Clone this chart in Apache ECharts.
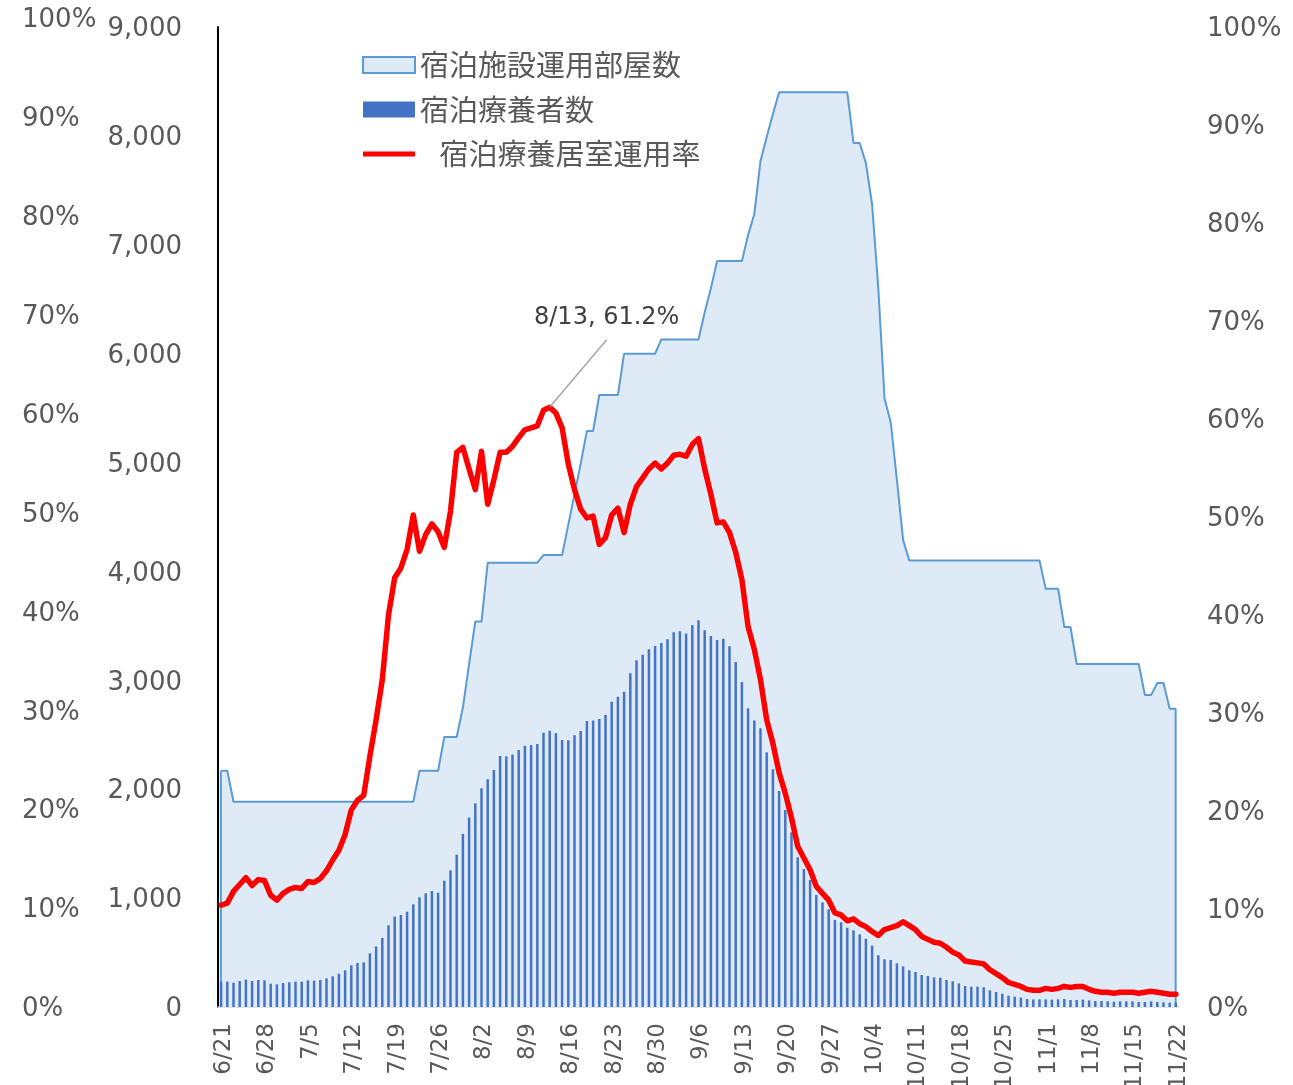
<!DOCTYPE html>
<html>
<head>
<meta charset="utf-8">
<script src="https://cdn.jsdelivr.net/npm/echarts@6.0.0/dist/echarts.min.js"></script>
<style>
html, body { margin: 0; padding: 0; background: #fff; }
#main { width: 1293px; height: 1085px; }
</style>
</head>
<body>
<div id="main"></div>
<script>
// series names
var nameRooms = '宿泊施設運用部屋数';
var namePatients = '宿泊療養者数';
var nameRate = '宿泊療養居室運用率';

// date categories 6/21 - 11/22 (daily)
var monthSpans = [[6, 21, 30], [7, 1, 31], [8, 1, 31], [9, 1, 30], [10, 1, 31], [11, 1, 22]];
var dates = [];
monthSpans.forEach(function (s) {
	for (var d = s[1]; d <= s[2]; d++) dates.push(s[0] + '/' + d);
});

// 宿泊施設運用部屋数
var rooms = [
	2170, 2170,
	1885, 1885, 1885, 1885, 1885, 1885, 1885, 1885, 1885, 1885,
	1885, 1885, 1885, 1885, 1885, 1885, 1885, 1885, 1885, 1885,
	1885, 1885, 1885, 1885, 1885, 1885, 1885, 1885, 1885, 1885,
	2170, 2170, 2170, 2170,
	2480, 2480, 2480,
	2750, 3150, 3540, 3540,
	4080, 4080, 4080, 4080, 4080, 4080, 4080, 4080, 4080,
	4150, 4150, 4150, 4150,
	4430, 4710, 4990,
	5290, 5290,
	5620, 5620, 5620, 5620,
	6000, 6000, 6000, 6000, 6000, 6000,
	6130, 6130, 6130, 6130, 6130, 6130, 6130,
	6380, 6600,
	6850, 6850, 6850, 6850, 6850,
	7090, 7280, 7770, 7990, 8200,
	8400, 8400, 8400, 8400, 8400, 8400, 8400, 8400, 8400, 8400, 8400, 8400,
	7935, 7935,
	7750, 7370, 6600, 5590, 5370, 4840, 4290,
	4100, 4100, 4100, 4100, 4100, 4100, 4100, 4100, 4100, 4100, 4100,
	4100, 4100, 4100, 4100, 4100, 4100, 4100, 4100, 4100, 4100, 4100,
	3840, 3840, 3840,
	3490, 3490,
	3150, 3150, 3150, 3150, 3150, 3150, 3150, 3150, 3150, 3150, 3150,
	2865, 2865, 2975, 2975, 2740, 2740
];

// 宿泊療養者数
var patients = [
	233, 233, 223, 239, 251, 239, 248, 245, 214, 208,
	220, 227, 233, 233, 245, 242, 248, 263, 282, 306,
	337, 383, 404, 410, 493, 557, 634, 750, 830, 845,
	875, 943, 1007, 1044, 1065, 1050, 1160, 1255, 1399,
	1590, 1740, 1870,
	2008, 2091, 2177, 2305, 2302, 2318, 2360, 2400, 2406, 2415,
	2519, 2538, 2513, 2452, 2449, 2495, 2535, 2627, 2630, 2645,
	2682, 2804, 2850, 2896, 3064, 3184, 3236, 3285, 3315, 3343,
	3377, 3441, 3450, 3429, 3508, 3551, 3459, 3407, 3371, 3383,
	3312, 3168,
	2985, 2743, 2630, 2559, 2339, 2183, 1984, 1809, 1604, 1375,
	1267, 1166, 1029, 961, 897, 799, 778, 728, 704, 667,
	627, 563, 475,
	438, 432, 401, 373, 337, 321, 294, 285, 272, 269,
	248, 236, 217, 193, 187, 187, 181, 153, 138, 122,
	104, 95, 86, 73, 70, 70, 70, 67, 70, 73,
	64, 64, 67, 61, 55, 55, 52, 49, 52, 52,
	52, 46, 46, 52, 46, 43, 40, 40
];

// 宿泊療養居室運用率 (%)
var rate = [
	10.4, 10.6, 11.8, 12.5, 13.2, 12.4, 13.0, 12.9, 11.4, 10.9,
	11.6, 12.0, 12.2, 12.1, 12.8, 12.7, 13.1, 13.9, 15.0, 16.0,
	17.6, 20.1, 21.1, 21.6, 25.6,
	29.3, 33.4, 40.0, 43.8, 44.8, 46.7, 50.2, 46.5, 48.2, 49.3,
	48.5, 46.9, 50.6, 56.6, 57.1, 54.9, 52.8, 56.7, 51.3, 53.8,
	56.6, 56.6, 57.2, 58.1, 58.9, 59.1, 59.3, 60.9, 61.2, 60.6,
	59.1, 55.4, 52.8, 50.8, 49.9, 50.1, 47.2, 47.9, 50.2, 50.9,
	48.4, 51.3, 53.1, 54.0, 54.9, 55.5, 54.9, 55.5, 56.3, 56.4,
	56.2, 57.4, 58.0, 54.9, 52.3, 49.4, 49.5, 48.4, 46.4, 43.6,
	38.8, 36.5, 33.4, 29.3, 26.9, 23.9, 21.8, 19.3, 16.4, 15.2,
	14.0, 12.3, 11.6, 10.9, 9.6, 9.4, 8.8, 9.0, 8.5, 8.2,
	7.7, 7.3, 7.9, 8.1, 8.3,
	8.7, 8.3, 7.9, 7.2, 6.9, 6.6, 6.5, 6.1, 5.6, 5.3,
	4.7, 4.6, 4.5, 4.4, 3.8, 3.4, 3.0, 2.5, 2.3, 2.1,
	1.8, 1.7, 1.7, 1.9, 1.8, 1.9, 2.1, 2.0, 2.1, 2.1,
	1.8, 1.6, 1.5, 1.5, 1.4, 1.5, 1.5, 1.5, 1.4, 1.5,
	1.6, 1.5, 1.4, 1.3, 1.3
];

var countTicks = { min: 0, max: 9000, interval: 1000 };
var pctTicks = { min: 0, max: 100, interval: 10 };

var labelColor = '#595959';
var latinFont = 'DejaVu Sans';

// the area outline is closed at both ends (first and last day)
var roomsEdge = rooms.map(function (v, i) {
	return (i === 0 || i === rooms.length - 1) ? v : '-';
});

// peak point gets the callout label
var peakIdx = 0;
for (var i = 1; i < rate.length; i++) {
	if (rate[i] > rate[peakIdx]) peakIdx = i;
}
var rateData = rate.map(function (v, i) {
	if (i !== peakIdx) return v;
	return {
		value: v,
		symbol: 'circle',
		symbolSize: 1,
		label: {
			show: true,
			position: 'top',
			formatter: dates[i] + ', ' + v.toFixed(1) + '%',
			fontSize: 24,
			color: '#404040',
			fontFamily: latinFont,
			// transparent padded box so the guide line meets the bottom middle
			backgroundColor: 'rgba(255,255,255,0)',
			padding: [0, 60, 10, 60]
		},
		labelLine: { show: true, lineStyle: { color: '#A6A6A6', width: 1.5 } }
	};
});

var yLabel = {
	fontSize: 26,
	color: labelColor,
	fontFamily: latinFont,
	verticalAlign: 'top',
	lineHeight: 5
};

var myChart = echarts.init(document.getElementById('main'));

var option = {
	animation: false,
	backgroundColor: '#fff',
	grid: [
		{ left: 218, right: 114, top: 27, bottom: 78, outerBoundsMode: 'none' },
		{ left: 218, right: 114, top: 18, bottom: 78, outerBoundsMode: 'none' }
	],
	legend: {
		orient: 'vertical',
		left: 357,
		top: 45,
		itemWidth: 52,
		itemHeight: 16,
		itemGap: 14.5,
		textStyle: { fontSize: 29, color: labelColor, fontFamily: 'Noto Sans CJK JP', lineHeight: 30 },
		formatter: function (name) {
			return name === nameRate ? '   ' + name : name;
		},
		data: [
			{ name: nameRooms, icon: 'rect', itemStyle: { color: '#DEEBF7', borderColor: '#5B9BD5', borderWidth: 2 } },
			{ name: namePatients, icon: 'rect' },
			{ name: nameRate, icon: 'path://M0,0H104V10H0Z' }
		]
	},
	xAxis: [
		{
			type: 'category',
			gridIndex: 0,
			data: dates,
			boundaryGap: true,
			axisLine: { lineStyle: { color: '#D9D9D9', width: 1.5 } },
			axisTick: { show: false },
			axisLabel: {
				interval: 6,
				rotate: 90,
				margin: 16,
				fontSize: 23,
				color: labelColor,
				fontFamily: latinFont,
				verticalAlign: 'top',
				lineHeight: 6
			}
		},
		{
			type: 'category',
			gridIndex: 1,
			data: dates,
			show: false
		}
	],
	yAxis: [
		{
			type: 'value',
			gridIndex: 0,
			position: 'left',
			min: countTicks.min,
			max: countTicks.max,
			interval: countTicks.interval,
			axisLine: { show: true, lineStyle: { color: '#000', width: 2 } },
			axisTick: { show: false },
			splitLine: { show: false },
			axisLabel: Object.assign({
				margin: 36,
				formatter: function (v) { return echarts.format.addCommas(v); }
			}, yLabel)
		},
		{
			type: 'value',
			gridIndex: 0,
			position: 'right',
			min: pctTicks.min,
			max: pctTicks.max,
			interval: pctTicks.interval,
			axisLine: { show: false },
			axisTick: { show: false },
			splitLine: { show: false },
			axisLabel: Object.assign({ margin: 28, formatter: '{value}%' }, yLabel)
		},
		{
			type: 'value',
			gridIndex: 1,
			position: 'left',
			offset: 150,
			min: pctTicks.min,
			max: pctTicks.max,
			interval: pctTicks.interval,
			axisLine: { show: false },
			axisTick: { show: false },
			splitLine: { show: false },
			axisLabel: Object.assign({ margin: 46, align: 'left', formatter: '{value}%' }, yLabel)
		}
	],
	series: [
		{
			name: nameRooms,
			type: 'line',
			xAxisIndex: 0,
			yAxisIndex: 0,
			data: rooms,
			symbol: 'none',
			itemStyle: { color: '#5B9BD5' },
			lineStyle: { color: '#5B9BD5', width: 2 },
			areaStyle: { color: '#DEEBF7', opacity: 1 },
			z: 1
		},
		{
			name: 'areaEdge',
			type: 'bar',
			xAxisIndex: 0,
			yAxisIndex: 0,
			data: roomsEdge,
			barWidth: 2,
			itemStyle: { color: '#5B9BD5' },
			z: 1
		},
		{
			name: namePatients,
			type: 'bar',
			xAxisIndex: 0,
			yAxisIndex: 0,
			data: patients,
			barWidth: '40%',
			barGap: '-100%',
			itemStyle: { color: '#4472C4' },
			z: 2
		},
		{
			name: nameRate,
			type: 'line',
			xAxisIndex: 0,
			yAxisIndex: 1,
			data: rateData,
			symbol: 'none',
			showAllSymbol: true,
			itemStyle: { color: '#FF0000' },
			lineStyle: { color: '#FF0000', width: 5.5, join: 'round', cap: 'round' },
			labelLayout: { dx: 57, dy: -62 },
			z: 3
		}
	],
	graphic: [
		{
			// clipped date label at the far left edge
			type: 'text',
			x: -10,
			y: 1050,
			rotation: Math.PI / 2,
			style: {
				text: '11/22',
				fontSize: 23,
				fontFamily: latinFont,
				fill: labelColor,
				align: 'center',
				verticalAlign: 'middle'
			}
		}
	]
};

myChart.setOption(option);
</script>
</body>
</html>
